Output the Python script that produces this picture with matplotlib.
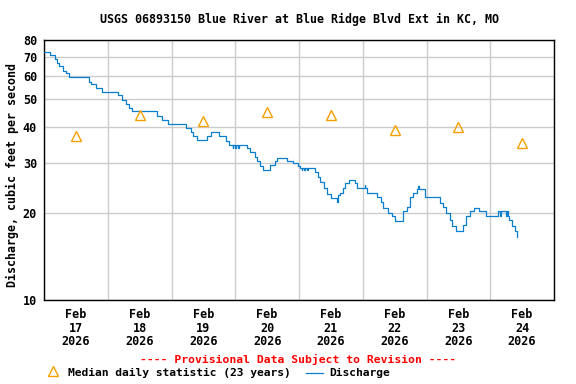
import matplotlib
matplotlib.use('Agg')
import matplotlib.pyplot as plt
import matplotlib.dates as mdates
from matplotlib.lines import Line2D
from matplotlib.ticker import FixedLocator, NullFormatter
import pandas as pd

title = "USGS 06893150 Blue River at Blue Ridge Blvd Ext in KC, MO"
start = pd.Timestamp("2026-02-17 00:00")

# Discharge (cfs): hours after Feb 17 00:00 at which the reading changes, and the value
q_hours = [0, 2.25, 4.0, 5.0, 5.5, 7.25, 8.25, 9.5, 17.0, 17.75, 19.5, 22.0, 28.0, 29.25,
           31.0, 32.0, 33.25, 42.5, 44.25, 46.75, 53.5, 55.25, 56.25, 57.75, 61.25, 63.0,
           66.0, 68.5, 69.5, 71.0, 71.25, 72.0, 72.25, 73.0, 73.25, 76.25, 77.5, 79.5,
           80.25, 81.5, 82.5, 85.0, 87.0, 87.75, 91.5, 93.75, 95.75, 96.5, 97.0, 97.25,
           98.0, 98.25, 99.0, 99.25, 102.0, 103.0, 104.0, 105.5, 106.5, 108.0, 110.25,
           110.75, 111.5, 112.5, 113.25, 115.0, 117.0, 118.0, 120.75, 121.0, 121.5, 125.25,
           127.0, 127.75, 129.5, 131.0, 132.25, 135.25, 136.5, 137.75, 139.0, 140.25,
           140.75, 141.0, 143.5, 149.0, 150.25, 151.5, 152.75, 153.75, 155.0, 157.75,
           159.0, 160.5, 162.0, 163.75, 166.5, 171.0, 171.5, 172.0, 174.0, 174.25, 174.5,
           175.0, 176.0, 177.25, 178.0, 178.25]
q_values = [72.4, 70.9, 68.7, 66.5, 64.9, 62.5, 61.2, 59.4, 57.3, 56.2, 54.3, 52.6, 51.5, 49.4,
            47.9, 46.4, 45.4, 43.6, 42.1, 40.7, 39.7, 38.4, 37.2, 36.0, 37.0, 38.2,
            37.2, 35.8, 34.5, 33.6, 34.5, 33.6, 34.5, 33.6, 34.5, 33.6, 32.7, 31.4,
            30.3, 29.2, 28.3, 29.4, 30.4, 31.2, 30.4, 29.9, 29.2, 28.8, 28.3, 28.8,
            28.3, 28.8, 28.3, 28.8, 27.9, 26.8, 25.7, 24.4, 23.4, 22.7, 21.9,
            23.1, 23.5, 24.4, 25.4, 26.2, 25.4, 24.4, 25.0, 24.4, 23.5, 22.8,
            21.9, 20.9, 20.1, 19.5, 18.8, 20.3, 21.1, 22.8, 23.5, 24.2,
            24.8, 24.2, 22.8, 21.8, 21.0, 20.0, 18.9, 18.1, 17.4, 18.2,
            19.5, 20.3, 20.9, 20.3, 19.6, 20.3, 19.6, 20.3, 19.6, 20.3, 19.6,
            18.9, 18.1, 17.3, 16.6, 16.6]

# Median daily statistic (23 years), plotted at noon of each day
median_days = ["2026-02-17 12:00", "2026-02-18 12:00", "2026-02-19 12:00", "2026-02-20 12:00",
               "2026-02-21 12:00", "2026-02-22 12:00", "2026-02-23 12:00", "2026-02-24 12:00"]
median_values = [37, 44, 42, 45, 44, 39, 40, 35]

y_ticks = [10, 20, 30, 40, 50, 60, 70, 80]
x_start = "2026-02-17 00:00"
x_end = "2026-02-25 00:00"

FONT = "DejaVu Sans Mono"
plt.rcParams['font.family'] = FONT
plt.rcParams['font.weight'] = 'bold'

fig = plt.figure(figsize=(5.76, 3.84), dpi=100)
ax = fig.add_axes([44/576, 1-300/384, 510/576, 260/384])

q_times = [start + pd.Timedelta(hours=h) for h in q_hours]
ax.plot(q_times, q_values, drawstyle='steps-post', color='#0a7fcf', lw=0.9, zorder=3)
m_times = pd.to_datetime(median_days)
ax.plot(m_times, median_values, linestyle='none', marker='^', markersize=7.5,
        markerfacecolor='none', markeredgecolor='#f5a000', markeredgewidth=1.0, zorder=4)

ax.set_yscale('log')
ax.set_ylim(10, 80)
ax.yaxis.set_major_locator(FixedLocator(y_ticks))
ax.yaxis.set_major_formatter(matplotlib.ticker.FixedFormatter([str(v) for v in y_ticks]))
ax.yaxis.set_minor_locator(FixedLocator([]))
ax.yaxis.set_minor_formatter(NullFormatter())

ax.set_xlim(pd.Timestamp(x_start), pd.Timestamp(x_end))
ax.xaxis.set_major_locator(mdates.DayLocator())
ax.xaxis.set_major_formatter(NullFormatter())
ax.xaxis.set_minor_locator(mdates.HourLocator(byhour=[12]))
ax.xaxis.set_minor_formatter(mdates.DateFormatter("%b\n%d\n%Y"))

ax.grid(True, which='major', color='#cccccc', lw=1.0)
ax.tick_params(axis='both', which='both', length=0)
ax.tick_params(axis='x', which='minor', pad=6, labelsize=8.5)
ax.tick_params(axis='y', which='major', pad=5, labelsize=8.5)
for lab in ax.xaxis.get_minorticklabels():
    lab.set_linespacing(1.05)
    lab.set_fontweight('bold')
for lab in ax.yaxis.get_majorticklabels():
    lab.set_fontweight('bold')
for s in ax.spines.values():
    s.set_color('black')
    s.set_linewidth(1.0)

fig.text(299/576, 1-19/384, title, ha='center', va='center', fontsize=8.4, fontweight='bold')
fig.text(12/576, 1-175/384, "Discharge, cubic feet per second", rotation=90,
         ha='center', va='center', fontsize=8.4, fontweight='bold')
fig.text(298/576, 1-359/384, "---- Provisional Data Subject to Revision ----",
         ha='center', va='center', fontsize=8.2, fontweight='bold', color='#ff0000')

# legend
fig.add_artist(Line2D([53/576], [1-371/384], transform=fig.transFigure, marker='^',
                      markersize=7.5, markerfacecolor='none', markeredgecolor='#f5a000',
                      markeredgewidth=1.0, linestyle='none'))
fig.text(68/576, 1-373/384, "Median daily statistic (23 years)", ha='left', va='center',
         fontsize=8.1, fontweight='bold')
fig.add_artist(Line2D([306/576, 323/576], [1-373/384, 1-373/384], transform=fig.transFigure,
                      color='#0a7fcf', lw=0.9))
fig.text(329/576, 1-373/384, "Discharge", ha='left', va='center', fontsize=8.1,
         fontweight='bold')

fig.savefig("out.png", dpi=100)
